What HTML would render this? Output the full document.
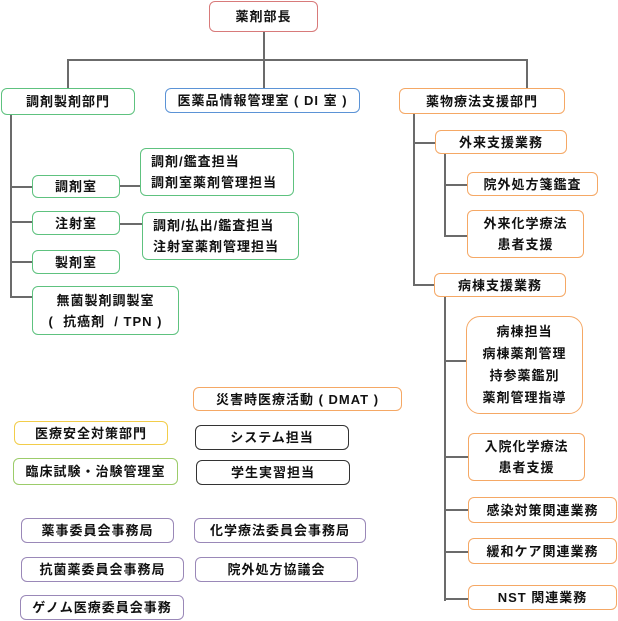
<!DOCTYPE html>
<html><head><meta charset="utf-8"><style>
body{margin:0;background:#fff;}
#c{position:relative;width:618px;height:621px;overflow:hidden;font-family:"Liberation Sans","Noto Sans CJK JP",sans-serif;font-weight:bold;font-size:13px;color:#111;}
.b{position:absolute;box-sizing:border-box;border:1.5px solid;border-radius:6px;display:flex;align-items:center;justify-content:center;text-align:center;line-height:21px;background:#fff;letter-spacing:1px;}
.r{border-color:#d87a7a}.g{border-color:#5ec27f}.bl{border-color:#5b93d6}.o{border-color:#f5a865}.y{border-color:#f2cd4a}.lg{border-color:#9ccc6a}.k{border-color:#333}.p{border-color:#9a88b8}
.h,.v{position:absolute;background:#6b6b6b}
.h{height:2px}.v{width:2px}
</style></head><body><div id="c">
<div class="v" style="left:263px;top:32px;height:56px"></div>
<div class="h" style="left:67px;top:59px;width:461px"></div>
<div class="v" style="left:67px;top:59px;height:29px"></div>
<div class="v" style="left:526px;top:59px;height:29px"></div>

<div class="v" style="left:10px;top:115px;height:183px"></div>
<div class="h" style="left:10px;top:186px;width:22px"></div>
<div class="h" style="left:10px;top:221px;width:22px"></div>
<div class="h" style="left:10px;top:261px;width:22px"></div>
<div class="h" style="left:10px;top:296px;width:22px"></div>
<div class="h" style="left:120px;top:185px;width:20px"></div>
<div class="h" style="left:120px;top:223px;width:22px"></div>

<div class="v" style="left:413px;top:114px;height:172px"></div>
<div class="h" style="left:413px;top:142px;width:22px"></div>
<div class="h" style="left:413px;top:284px;width:22px"></div>
<div class="v" style="left:444px;top:154px;height:83px"></div>
<div class="h" style="left:444px;top:184px;width:23px"></div>
<div class="h" style="left:444px;top:235px;width:23px"></div>
<div class="v" style="left:444px;top:297px;height:304px"></div>
<div class="h" style="left:444px;top:360px;width:22px"></div>
<div class="h" style="left:444px;top:456px;width:24px"></div>
<div class="h" style="left:444px;top:509px;width:24px"></div>
<div class="h" style="left:444px;top:551px;width:24px"></div>
<div class="h" style="left:444px;top:598px;width:24px"></div>

<div class="b r" style="left:209px;top:1px;width:109px;height:31px">薬剤部長</div>
<div class="b g" style="left:1px;top:88px;width:134px;height:27px">調剤製剤部門</div>
<div class="b bl" style="left:165px;top:88px;width:195px;height:25px">医薬品情報管理室 ( DI 室 )</div>
<div class="b o" style="left:399px;top:88px;width:166px;height:26px">薬物療法支援部門</div>

<div class="b g" style="left:32px;top:175px;width:88px;height:23px">調剤室</div>
<div class="b g" style="left:32px;top:211px;width:88px;height:24px">注射室</div>
<div class="b g" style="left:32px;top:250px;width:88px;height:24px">製剤室</div>
<div class="b g" style="left:32px;top:286px;width:147px;height:49px">無菌製剤調製室<br>(&nbsp; 抗癌剤 &nbsp;/ TPN )</div>
<div class="b g" style="left:140px;top:148px;width:154px;height:48px;justify-content:flex-start;padding-left:10px;text-align:left">調剤/鑑査担当<br>調剤室薬剤管理担当</div>
<div class="b g" style="left:142px;top:212px;width:157px;height:48px;justify-content:flex-start;padding-left:10px;text-align:left">調剤/払出/鑑査担当<br>注射室薬剤管理担当</div>

<div class="b o" style="left:435px;top:130px;width:132px;height:24px">外来支援業務</div>
<div class="b o" style="left:467px;top:172px;width:131px;height:24px">院外処方箋鑑査</div>
<div class="b o" style="left:467px;top:210px;width:117px;height:48px">外来化学療法<br>患者支援</div>
<div class="b o" style="left:434px;top:273px;width:132px;height:24px">病棟支援業務</div>
<div class="b o" style="left:466px;top:316px;width:117px;height:98px;border-radius:14px;line-height:22px">病棟担当<br>病棟薬剤管理<br>持参薬鑑別<br>薬剤管理指導</div>
<div class="b o" style="left:468px;top:433px;width:117px;height:48px">入院化学療法<br>患者支援</div>
<div class="b o" style="left:468px;top:497px;width:149px;height:26px">感染対策関連業務</div>
<div class="b o" style="left:468px;top:538px;width:149px;height:26px">緩和ケア関連業務</div>
<div class="b o" style="left:468px;top:585px;width:149px;height:25px">NST 関連業務</div>

<div class="b o" style="left:193px;top:387px;width:209px;height:24px">災害時医療活動 ( DMAT )</div>
<div class="b y" style="left:14px;top:421px;width:154px;height:24px">医療安全対策部門</div>
<div class="b k" style="left:195px;top:425px;width:154px;height:25px">システム担当</div>
<div class="b lg" style="left:13px;top:458px;width:165px;height:27px">臨床試験・治験管理室</div>
<div class="b k" style="left:196px;top:460px;width:154px;height:25px">学生実習担当</div>
<div class="b p" style="left:21px;top:518px;width:153px;height:25px">薬事委員会事務局</div>
<div class="b p" style="left:194px;top:518px;width:172px;height:25px">化学療法委員会事務局</div>
<div class="b p" style="left:21px;top:557px;width:163px;height:25px">抗菌薬委員会事務局</div>
<div class="b p" style="left:195px;top:557px;width:163px;height:25px">院外処方協議会</div>
<div class="b p" style="left:20px;top:595px;width:164px;height:25px">ゲノム医療委員会事務</div>
</div></body></html>
